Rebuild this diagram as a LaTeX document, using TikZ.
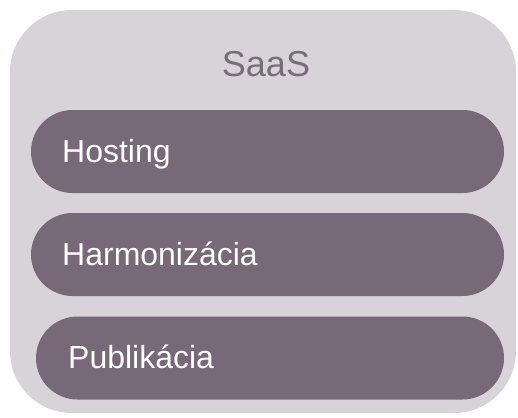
\documentclass[tikz,border=0pt]{standalone}
\usepackage{fontspec}
\setmainfont{Liberation Sans}
\definecolor{outerfill}{RGB}{216,210,217}
\definecolor{pillfill}{RGB}{120,105,121}
\definecolor{titlecol}{RGB}{122,107,124}
\tikzset{
  outerbox/.style={fill=outerfill, draw=none, rounded corners=62pt, inner sep=0pt},
  pill/.style={fill=pillfill, draw=none, rounded corners=41.5pt, inner sep=0pt, minimum height=83pt},
  itemtext/.style={anchor=base west, text=white, inner sep=0pt, font=\fontsize{32}{38}\selectfont},
  titletext/.style={anchor=base, text=titlecol, inner sep=0pt, font=\fontsize{36}{42}\selectfont}
}
\begin{document}
\begin{tikzpicture}[x=1pt,y=-1pt]
\useasboundingbox (0,0) rectangle (518,417);
\node[outerbox, minimum width=506pt, minimum height=403pt] (outer) at (263,211.5) {};
\node[titletext] (saas) at (266,77) {SaaS};
\node[pill, minimum width=473pt] (p1) at (267.5,151.5) {};
\node[pill, minimum width=473pt] (p2) at (267.5,254.5) {};
\node[pill, minimum width=468pt] (p3) at (270,358) {};
\node[itemtext] (t1) at (62,162) {Hosting};
\node[itemtext] (t2) at (62,265) {Harmonizácia};
\node[itemtext] (t3) at (68,368) {Publikácia};
\end{tikzpicture}
\end{document}
